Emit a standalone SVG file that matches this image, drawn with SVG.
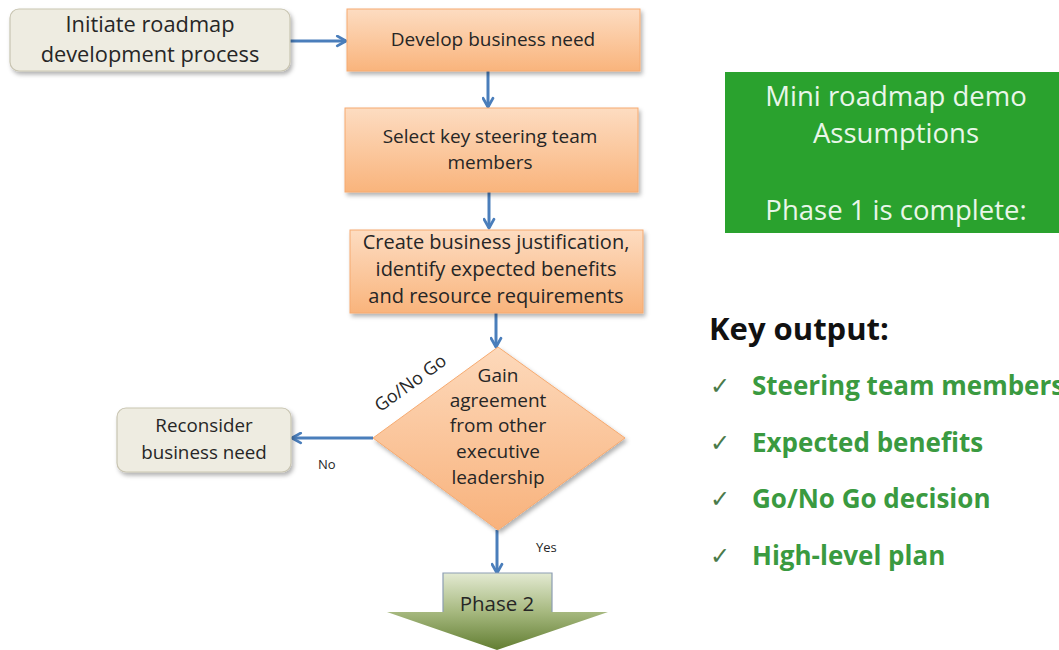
<svg xmlns="http://www.w3.org/2000/svg" width="1059" height="650" viewBox="0 0 1059 650">
  <defs>
    <linearGradient id="peach" x1="0" y1="0" x2="0" y2="1">
      <stop offset="0" stop-color="#fddcc1"/>
      <stop offset="1" stop-color="#f9b47c"/>
    </linearGradient>
    <linearGradient id="peachDiamond" x1="0" y1="0" x2="0" y2="1">
      <stop offset="0" stop-color="#fdd9bb"/>
      <stop offset="1" stop-color="#f8b27c"/>
    </linearGradient>
    <linearGradient id="olive" gradientUnits="userSpaceOnUse" x1="0" y1="573" x2="0" y2="650">
      <stop offset="0" stop-color="#e3ead2"/>
      <stop offset="0.5" stop-color="#a7b980"/>
      <stop offset="1" stop-color="#627e32"/>
    </linearGradient>
    <filter id="shadow" x="-10%" y="-20%" width="125%" height="150%">
      <feDropShadow dx="2" dy="3" stdDeviation="2" flood-color="#000" flood-opacity="0.3"/>
    </filter>
    <marker id="head" viewBox="0 0 12 12" refX="10" refY="6" markerWidth="13" markerHeight="13" markerUnits="userSpaceOnUse" orient="auto">
      <path d="M2,1.5 L10,6 L2,10.5" fill="none" stroke="#4a7ebb" stroke-width="2.6" stroke-linecap="round" stroke-linejoin="round"/>
    </marker>
    <style>
      .lbl { font-family: "Open Sans", Lato, "Liberation Sans", sans-serif; fill: #262626; text-anchor: middle; }
      .grey { fill: #eeece1; stroke: #c9c5b2; stroke-width: 1.2; filter: url(#shadow); }
      .orange { fill: url(#peach); stroke: #f6aa70; stroke-width: 1; filter: url(#shadow); }
      .conn { fill: none; stroke: #4a7ebb; stroke-width: 3; marker-end: url(#head); }
      .small { font-family: "Open Sans", Lato, "Liberation Sans", sans-serif; font-size: 13px; fill: #262626; }
      .side { font-family: "Open Sans", Lato, "Liberation Sans", sans-serif; }
      .item { font-size: 26px; font-weight: bold; fill: #3a9a40; }
      .tick { font-family: "DejaVu Sans", sans-serif; font-size: 24px; fill: #4a7a4a; }
    </style>
  </defs>

  <rect width="1059" height="650" fill="#ffffff"/>

  <!-- connectors -->
  <g id="connectors">
    <line class="conn" x1="290" y1="41" x2="346" y2="41"/>
    <line class="conn" x1="488" y1="71" x2="488" y2="107"/>
    <line class="conn" x1="489" y1="192" x2="489" y2="228"/>
    <line class="conn" x1="496" y1="313" x2="496" y2="347"/>
    <line class="conn" x1="373" y1="438" x2="292" y2="438"/>
    <line class="conn" x1="497" y1="530" x2="497" y2="573"/>
    <text class="small" x="318" y="469">No</text>
    <text class="small" x="536" y="552">Yes</text>
    <text class="lbl" font-size="18" transform="translate(414,388) rotate(-36)">Go/No Go</text>
  </g>

  <g id="initiate">
    <rect class="grey" x="10" y="9" width="280" height="62" rx="9"/>
    <text class="lbl" font-size="21.8" x="150" y="32">Initiate roadmap</text>
    <text class="lbl" font-size="21.8" x="150" y="62">development  process</text>
  </g>

  <g id="develop">
    <rect class="orange" x="347" y="9" width="293" height="62"/>
    <text class="lbl" font-size="19" x="493" y="46">Develop business need</text>
  </g>

  <g id="select">
    <rect class="orange" x="345" y="108" width="293" height="84"/>
    <text class="lbl" font-size="19" x="490" y="143">Select key steering team</text>
    <text class="lbl" font-size="19" x="490" y="169">members</text>
  </g>

  <g id="create">
    <rect class="orange" x="350" y="230" width="293" height="83"/>
    <text class="lbl" font-size="20" x="496" y="249">Create business justification,</text>
    <text class="lbl" font-size="20" x="496" y="276">identify expected benefits</text>
    <text class="lbl" font-size="20" x="496" y="303">and resource requirements</text>
  </g>

  <g id="decision">
    <polygon points="498,347 625,438 498,530 373,438" fill="url(#peachDiamond)" stroke="#f6aa70" stroke-width="1" filter="url(#shadow)"/>
    <text class="lbl" font-size="19" x="498" y="382">Gain</text>
    <text class="lbl" font-size="19" x="498" y="407">agreement</text>
    <text class="lbl" font-size="19" x="498" y="432">from other</text>
    <text class="lbl" font-size="19" x="498" y="458">executive</text>
    <text class="lbl" font-size="19" x="498" y="484">leadership</text>
  </g>

  <g id="reconsider">
    <rect class="grey" x="117" y="408" width="174" height="64" rx="9"/>
    <text class="lbl" font-size="18.8" x="204" y="432">Reconsider</text>
    <text class="lbl" font-size="18.8" x="204" y="459">business need</text>
  </g>

  <g id="phase2">
    <polygon points="443,573 552,573 552,612 608,612 497,650 387,612 443,612" fill="url(#olive)"/>
    <polyline points="443,612 443,573 552,573 552,612" fill="none" stroke="#8c9db3" stroke-width="1.2"/>
    <text class="lbl" font-size="20.5" x="497" y="611">Phase 2</text>
  </g>

  <g id="assumptions">
    <rect x="725" y="72" width="334" height="161" fill="#2aa22e"/>
    <text class="side" font-size="27.5" fill="#e9f6e9" text-anchor="middle" x="896" y="106">Mini roadmap demo</text>
    <text class="side" font-size="27.5" fill="#e9f6e9" text-anchor="middle" x="896" y="143">Assumptions</text>
    <text class="side" font-size="27.5" fill="#e9f6e9" text-anchor="middle" x="896" y="220">Phase 1 is complete:</text>
  </g>

  <g id="key-output">
    <text class="side" font-size="31" font-weight="bold" fill="#111111" x="709" y="340">Key output:</text>
    <text class="tick" x="710" y="394">✓</text>
    <text class="side item" x="752" y="395">Steering team members</text>
    <text class="tick" x="710" y="451">✓</text>
    <text class="side item" x="752" y="452">Expected benefits</text>
    <text class="tick" x="710" y="507">✓</text>
    <text class="side item" x="752" y="508">Go/No Go decision</text>
    <text class="tick" x="710" y="564">✓</text>
    <text class="side item" x="752" y="565">High-level plan</text>
  </g>
</svg>
